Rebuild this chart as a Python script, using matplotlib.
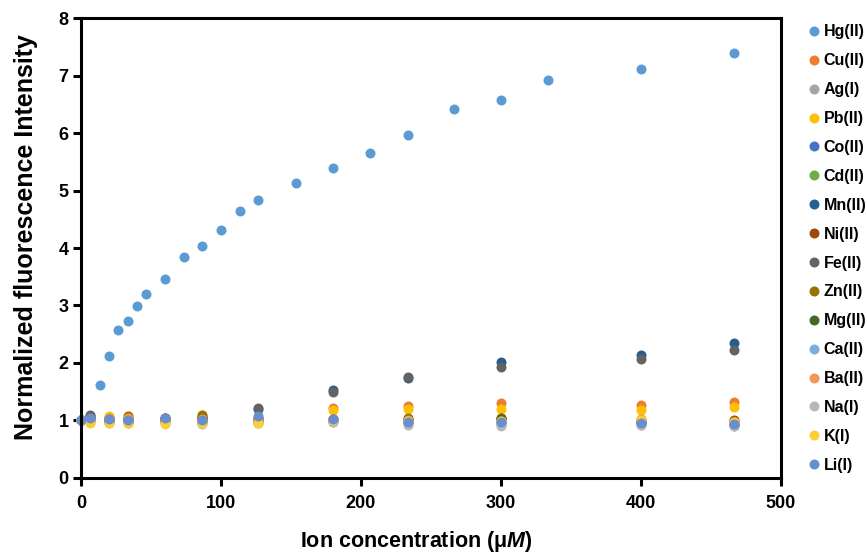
import matplotlib
matplotlib.use("Agg")
import matplotlib.pyplot as plt

plt.rcParams['font.family'] = ['Liberation Sans', 'DejaVu Sans']
plt.rcParams['font.weight'] = 'bold'
plt.rcParams['mathtext.fontset'] = 'custom'
plt.rcParams['mathtext.it'] = 'Liberation Sans:italic:bold'
plt.rcParams['mathtext.rm'] = 'Liberation Sans:bold'

# Hg(II) titration (µM)
hg_conc = [0, 6.7, 13.3, 20, 26.7, 33.3, 40, 46.7, 60, 73.3, 86.7, 100, 113.3,
           126.7, 153.3, 180, 206.7, 233.3, 266.7, 300, 333.3, 400, 466.7]
hg_vals = [1.00, 1.07, 1.62, 2.12, 2.58, 2.73, 2.99, 3.20, 3.46, 3.84, 4.03, 4.31,
           4.65, 4.83, 5.13, 5.39, 5.65, 5.97, 6.42, 6.57, 6.92, 7.11, 7.39]

# other ions share one concentration series (µM)
ion_conc = [0, 6.7, 20, 33.3, 60, 86.7, 126.7, 180, 233.3, 300, 400, 466.7]
cu_vals = [1.00, 1.04, 1.06, 1.05, 1.03, 1.06, 1.02, 1.22, 1.25, 1.30, 1.27, 1.32]
ag_vals = [1.00, 0.98, 0.97, 0.96, 0.97, 0.95, 0.96, 0.98, 0.94, 0.92, 0.93, 0.90]
pb_vals = [1.00, 1.05, 1.07, 1.08, 1.05, 1.10, 1.00, 1.18, 1.20, 1.20, 1.18, 1.24]
co_vals = [1.00, 1.02, 1.00, 0.99, 1.01, 0.98, 1.02, 1.00, 0.98, 0.97, 0.96, 0.94]
cd_vals = [1.00, 1.01, 0.99, 0.97, 1.00, 0.99, 1.01, 1.02, 0.99, 0.99, 0.98, 0.96]
mn_vals = [1.00, 1.08, 1.02, 1.03, 1.04, 1.05, 1.20, 1.53, 1.74, 2.01, 2.14, 2.35]
ni_vals = [1.00, 1.03, 1.01, 1.02, 1.03, 1.04, 1.05, 1.03, 1.02, 1.04, 1.01, 1.00]
fe_vals = [1.00, 1.09, 1.03, 1.02, 1.05, 1.06, 1.22, 1.49, 1.75, 1.93, 2.07, 2.22]
zn_vals = [1.00, 1.04, 1.03, 1.07, 1.04, 1.10, 1.03, 1.02, 1.04, 1.05, 1.00, 0.99]
mg_vals = [1.00, 1.02, 0.98, 0.99, 1.01, 1.02, 0.99, 1.00, 1.01, 1.02, 0.97, 0.92]
ca_vals = [1.00, 1.00, 0.99, 1.00, 0.99, 0.97, 1.00, 0.99, 0.97, 0.96, 0.95, 0.93]
ba_vals = [1.00, 1.02, 1.03, 1.05, 1.02, 1.03, 1.01, 1.03, 1.00, 0.99, 1.02, 0.98]
na_vals = [1.00, 0.97, 0.96, 0.95, 0.96, 0.94, 0.95, 0.97, 0.93, 0.91, 0.92, 0.91]
k_vals = [1.00, 0.96, 0.95, 0.95, 0.94, 0.96, 0.96, 1.00, 0.99, 0.99, 1.00, 0.98]
li_vals = [1.00, 1.05, 1.02, 1.00, 1.04, 1.00, 1.07, 1.03, 0.98, 0.98, 0.96, 0.94]

labels = ['Hg(II)', 'Cu(II)', 'Ag(I)', 'Pb(II)', 'Co(II)', 'Cd(II)', 'Mn(II)', 'Ni(II)',
          'Fe(II)', 'Zn(II)', 'Mg(II)', 'Ca(II)', 'Ba(II)', 'Na(I)', 'K(I)', 'Li(I)']
colors = ['#5B9BD5', '#ED7D31', '#A5A5A5', '#FFC000', '#4472C4', '#70AD47', '#255E91',
          '#9E480E', '#636363', '#997300', '#43682B', '#7CAFDD', '#F1975A', '#B7B7B7',
          '#FFCD33', '#698ED0']

series = [(hg_conc, hg_vals)] + [(ion_conc, v) for v in (
    cu_vals, ag_vals, pb_vals, co_vals, cd_vals, mn_vals, ni_vals, fe_vals,
    zn_vals, mg_vals, ca_vals, ba_vals, na_vals, k_vals, li_vals)]

fig = plt.figure(figsize=(8.67, 5.58), dpi=100)
ax = fig.add_axes([0.0934, 0.1434, 0.8074, 0.8243])

for (xs, ys), lab, col in zip(series, labels, colors):
    ax.plot(xs, ys, linestyle='none', marker='o', ms=7.2, mec='none', mfc=col,
            label=lab, clip_on=False)

ax.set_xlim(0, 500)
ax.set_ylim(0, 8)
ax.set_xticks(range(0, 501, 100))
ax.set_yticks(range(0, 9))
for s in ax.spines.values():
    s.set_linewidth(2.2)
ax.tick_params(axis='both', which='major', direction='out', length=6, width=2.2,
               labelsize=13)
ax.tick_params(axis='y', pad=3)
ax.tick_params(axis='x', pad=6)
for lab in ax.get_xticklabels() + ax.get_yticklabels():
    lab.set_fontweight('bold')

ax.set_xlabel(r'Ion concentration (μ$\mathit{M}$)', fontsize=15.5, fontweight='bold')
ax.xaxis.set_label_coords(0.4786, -0.112)
ax.set_ylabel('Normalized fluorescence Intensity', fontsize=18, fontweight='bold')
ax.yaxis.set_label_coords(-0.062, 0.524)

leg = ax.legend(loc='upper left', bbox_to_anchor=(1.031, 1.0), frameon=False,
                handlelength=0.6, handletextpad=0.3, labelspacing=0.87,
                borderaxespad=0, prop={'size': 11.5, 'weight': 'bold'})

fig.savefig('out.png', dpi=100)
